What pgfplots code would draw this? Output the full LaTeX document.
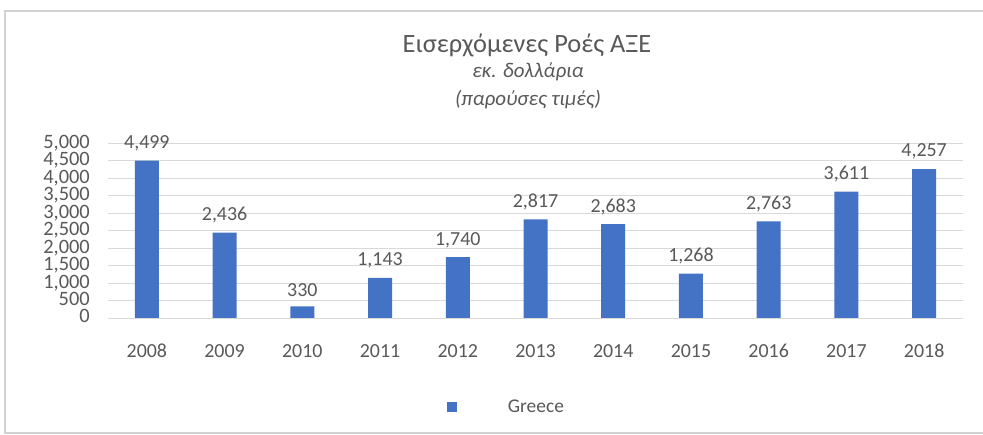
\documentclass[border=0pt]{standalone}
\usepackage{pgfplots}
\pgfplotsset{compat=1.18}
\usepackage{fontspec}
\setmainfont{Carlito}
\definecolor{barblue}{HTML}{4472C4}
\definecolor{txtgray}{HTML}{595959}
\definecolor{gridgray}{HTML}{D9D9D9}
\begin{document}
\begin{tikzpicture}
\useasboundingbox (0bp,0bp) rectangle (983bp,435bp);
\fill[white] (0bp,0bp) rectangle (983bp,435bp);
\draw[black!18, line width=1.5bp] (5bp,2bp) rectangle (992bp,424bp);

\node[txtgray, font=\fontsize{26.5}{26}\selectfont] at (527bp,390bp) {Εισερχόμενες Ροές ΑΞΕ};
\node[txtgray, font=\fontsize{21}{21}\selectfont\itshape] at (528bp,363bp) {εκ. δολλάρια};
\node[txtgray, font=\fontsize{21}{21}\selectfont\itshape] at (528bp,335bp) {(παρούσες τιμές)};

\begin{axis}[
  at={(108bp,117bp)}, anchor=south west,
  scale only axis,
  width=855bp, height=175bp,
  xmin=-0.5, xmax=10.5,
  ymin=0, ymax=5000,
  ytick={0,500,...,5000},
  xtick={0,...,10},
  xticklabels={2008,2009,2010,2011,2012,2013,2014,2015,2016,2017,2018},
  axis line style={draw=none},
  major tick length=0pt,
  ymajorgrids, grid style={gridgray, line width=0.8bp},
  yticklabel style={txtgray, font=\fontsize{20.5}{17}\selectfont, inner sep=0pt,
    text height=8bp, text depth=0bp, yshift=-1bp, xshift=-18bp},
  xticklabel style={txtgray, font=\fontsize{20}{20}\selectfont,
    text height=14bp, text depth=0bp, yshift=-22bp},
  /pgf/number format/assume math mode=true,
  /pgf/number format/.cd, 1000 sep={,}, /pgfplots/.cd,
  ybar, bar width=24bp,
  nodes near coords,
  nodes near coords style={txtgray, font=\fontsize{20}{20}\selectfont, yshift=6bp,
    /pgf/number format/assume math mode=true, /pgf/number format/1000 sep={,}},
  legend style={at={(0.466,-0.51)}, anchor=center, draw=none, fill=none,
    font=\fontsize{19.5}{19.5}\selectfont, text=txtgray},
  legend image code/.code={\fill[barblue] (0bp,-5bp) rectangle (10bp,5bp);},
]
\addplot[fill=barblue, draw=none] coordinates {
(0,4499) (1,2436) (2,330) (3,1143) (4,1740) (5,2817)
(6,2683) (7,1268) (8,2763) (9,3611) (10,4257)};
\addlegendentry{\hspace{49bp}Greece}
\end{axis}
\end{tikzpicture}
\end{document}
